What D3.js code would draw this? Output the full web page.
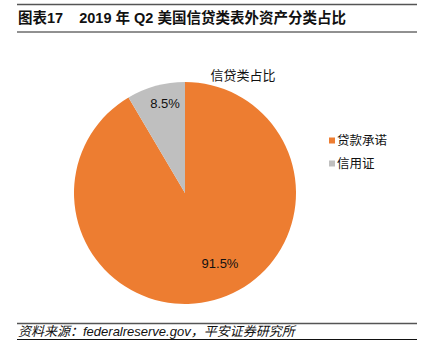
<!DOCTYPE html>
<html><head><meta charset="utf-8">
<script src="https://cdn.jsdelivr.net/npm/d3@7"></script>
<style>body{margin:0;background:#fff;}svg{display:block;font-family:"Liberation Sans","Noto Sans CJK SC",sans-serif;}</style>
</head><body>
<svg id="c" width="423" height="363"></svg>
<script>
const categories = ["贷款承诺", "信用证"];
const values = [91.5, 8.5];
const colors = ["#ED7D31", "#BFBFBF"];
const labels = ["91.5%", "8.5%"];
const titleText = "图表17    2019 年 Q2 美国信贷类表外资产分类占比";
const chartTitle = "信贷类占比";
const sourceText = "资料来源：federalreserve.gov，平安证券研究所";

const svg = d3.select("#c");
svg.append("line").attr("x1",17).attr("x2",417).attr("y1",4.5).attr("y2",4.5).attr("stroke","#555").attr("stroke-width",1.5);
svg.append("text").attr("x",18).attr("y",23).attr("font-size",14.5).attr("font-weight","bold").attr("fill","#111")
  .attr("xml:space","preserve").style("white-space","pre").text(titleText);
svg.append("line").attr("x1",17).attr("x2",417).attr("y1",32).attr("y2",32).attr("stroke","#222").attr("stroke-width",1);

const cx = 185, cy = 193, r = 111;
const pie = d3.pie().sort(null).value(d => d);
const arcs = pie(values);
const arc = d3.arc().innerRadius(0).outerRadius(r);
const g = svg.append("g").attr("transform", `translate(${cx},${cy})`);
g.selectAll("path").data(arcs).join("path").attr("d", arc).attr("fill", (d,i)=>colors[i]);

const pos = [[220-cx, 263-cy],[165-cx, 103-cy]];
g.selectAll("text.lbl").data(arcs).join("text").attr("class","lbl")
  .attr("x",(d,i)=>pos[i][0]).attr("y",(d,i)=>pos[i][1]).attr("text-anchor","middle").attr("dominant-baseline","central")
  .attr("font-size",13).attr("fill","#111").text((d,i)=>labels[i]);

svg.append("text").attr("x",243).attr("y",80).attr("text-anchor","middle").attr("font-size",13).attr("fill","#111").text(chartTitle);

const leg = svg.append("g");
categories.forEach((c,i)=>{
  const y = 141 + i*23;
  leg.append("rect").attr("x",329).attr("y",y-3.5).attr("width",6).attr("height",6).attr("fill",colors[i]);
  leg.append("text").attr("x",337).attr("y",y).attr("dominant-baseline","central").attr("font-size",12.5).attr("fill","#111").text(c);
});

svg.append("line").attr("x1",17).attr("x2",417).attr("y1",323.5).attr("y2",323.5).attr("stroke","#555").attr("stroke-width",1.5);
svg.append("text").attr("x",18).attr("y",336).attr("font-size",13).attr("font-style","italic").attr("fill","#111").text(sourceText);
svg.append("line").attr("x1",17).attr("x2",417).attr("y1",339.5).attr("y2",339.5).attr("stroke","#111").attr("stroke-width",1);
</script>
</body></html>
